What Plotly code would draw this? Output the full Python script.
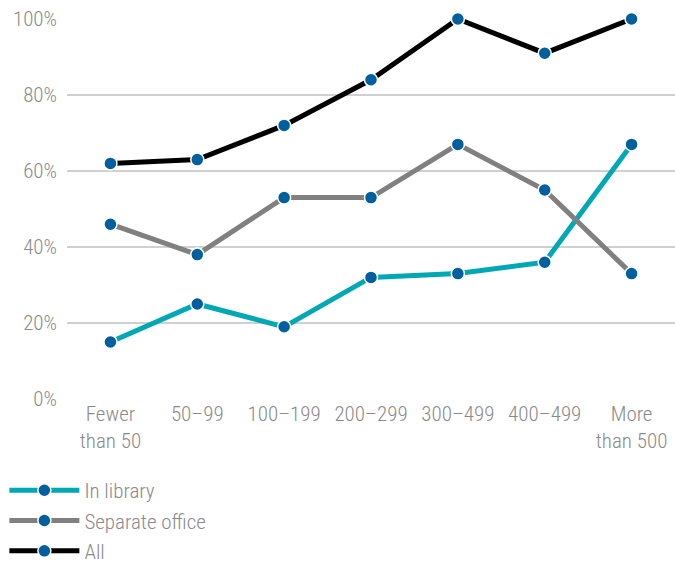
import plotly.graph_objects as go

categories = ["Fewer<br>than 50", "50–99", "100–199", "200–299", "300–499", "400–499", "More<br>than 500"]
in_library = [15, 25, 19, 32, 33, 36, 67]
separate_office = [46, 38, 53, 53, 67, 55, 33]
all_vals = [62, 63, 72, 84, 100, 91, 100]
y_ticks = [0, 20, 40, 60, 80, 100]
y_tick_labels = ["0%", "20%", "40%", "60%", "80%", "100%"]

series = [
    ("In library", in_library, "#00a8b5"),
    ("Separate office", separate_office, "#808080"),
    ("All", all_vals, "#000000"),
]

FONT = "Roboto Condensed, Roboto, sans-serif"
GREY = "#8a8a8a"

fig = go.Figure()
for name, vals, color in series:
    fig.add_trace(go.Scatter(
        x=categories, y=vals, name=name, mode="lines+markers",
        line=dict(color=color, width=5),
        marker=dict(color="#005f9f", size=13, line=dict(color="white", width=1.5)),
        cliponaxis=False,
    ))

fig.update_layout(
    width=675, height=563,
    margin=dict(l=67, r=0, t=19, b=164, autoexpand=False),
    paper_bgcolor="white", plot_bgcolor="white",
    font=dict(family=FONT, size=21, color=GREY, weight=300),
    showlegend=True,
    legend=dict(
        orientation="v", x=-0.103, xanchor="left",
        y=-0.187, yanchor="top", traceorder="normal",
        font=dict(family=FONT, size=21, color=GREY, weight=300),
        itemwidth=70, tracegroupgap=0, bgcolor="rgba(0,0,0,0)",
    ),
    xaxis=dict(
        type="category", showgrid=False, zeroline=False, showline=False,
        ticks="", tickangle=0, range=[-0.5, 6.5], automargin=False,
        tickfont=dict(family=FONT, size=21, color=GREY, weight=300),
    ),
    yaxis=dict(
        range=[0, 100], tickmode="array", tickvals=y_ticks, ticktext=y_tick_labels,
        showgrid=True, gridcolor="#d0d0d0", gridwidth=1.5, zeroline=False,
        showline=False, ticks="", ticklabelstandoff=9, automargin=False,
        tickfont=dict(family=FONT, size=21, color=GREY, weight=300),
    ),
)

fig.write_html("out.html", config={"displayModeBar": False},
               post_script="document.body.style.margin='0';")
